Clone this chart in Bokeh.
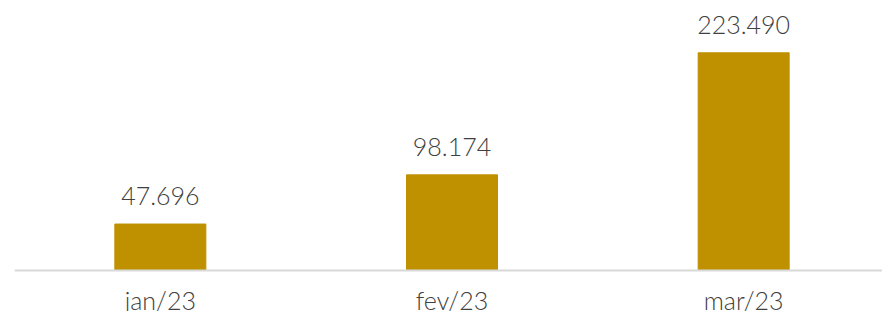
from bokeh.plotting import figure
from bokeh.models import Range1d, ColumnDataSource, Span
from bokeh.core.properties import value
from bokeh.embed import file_html
from bokeh.resources import INLINE

categories = ["jan/23", "fev/23", "mar/23"]
values = [47696, 98174, 223490]

xs = [i + 0.5 for i in range(len(categories))]
labels = [f"{v:,}".replace(",", ".") for v in values]
src = ColumnDataSource(dict(x=xs, top=values, label=labels, cat=categories, zero=[0] * len(xs)))

FONT = "'Lato Light', Lato, sans-serif"
px_per_unit = 217.7 / 223490
p = figure(width=882, height=311, output_backend="svg", toolbar_location=None,
           x_range=Range1d(0, 2.976),
           y_range=Range1d(-41 / px_per_unit, 270 / px_per_unit),
           min_border_left=14, min_border_right=0, min_border_top=0, min_border_bottom=0)
p.outline_line_color = None
p.background_fill_color = "white"
p.border_fill_color = "white"
p.grid.visible = False
p.xaxis.visible = False
p.yaxis.visible = False

p.vbar(x="x", top="top", bottom=0, width=0.312, color="#BF9000", source=src)
p.add_layout(Span(location=0, dimension="width", line_color="#D9D9D9", line_width=2))
p.text(x="x", y="top", text="label", source=src, text_align="center", text_baseline="alphabetic",
       y_offset=-28, text_font=value(FONT), text_font_size="25px", text_color="#404040")
p.text(x="x", y="zero", text="cat", source=src, text_align="center", text_baseline="alphabetic",
       y_offset=29, text_font=value(FONT), text_font_size="25px", text_color="#404040")

open("out.html", "w").write(file_html(p, INLINE))
